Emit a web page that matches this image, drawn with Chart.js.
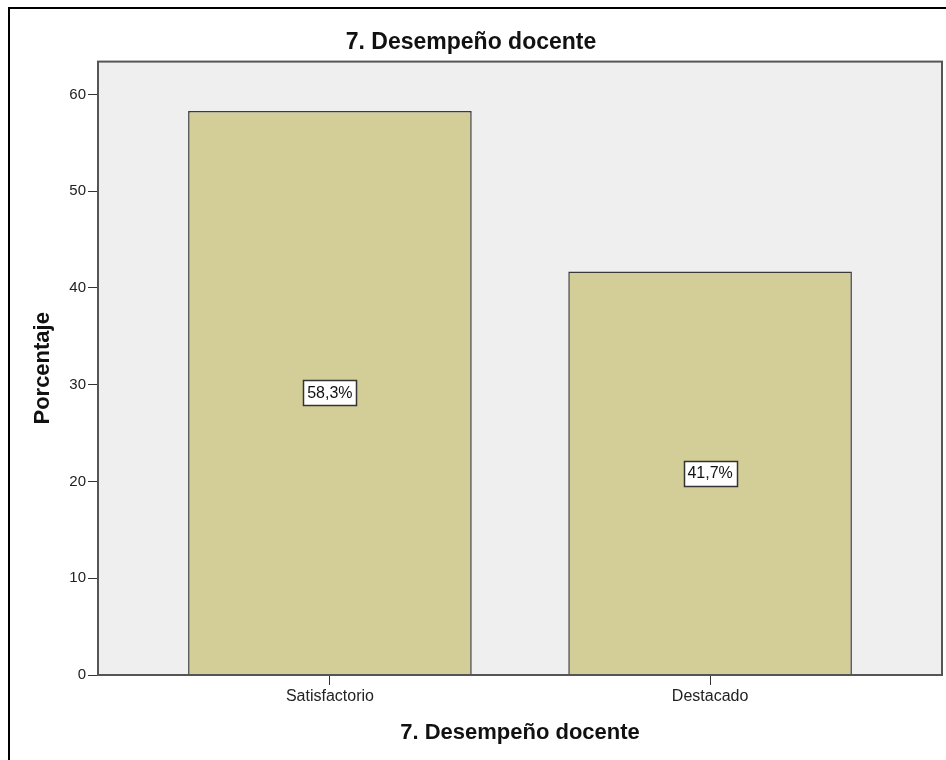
<!DOCTYPE html>
<html>
<head>
<meta charset="utf-8">
<script src="https://cdn.jsdelivr.net/npm/chart.js@4.4.1/dist/chart.umd.min.js"></script>
<style>
  html, body { margin: 0; padding: 0; background: #ffffff; }
  #wrap { width: 946px; height: 760px; position: relative; }
</style>
</head>
<body>
<div id="wrap"><canvas id="c" width="946" height="760"></canvas></div>
<script>
// ---- Data ----
const chartTitle = '7. Desempeño docente';
const xAxisTitle = '7. Desempeño docente';
const yAxisTitle = 'Porcentaje';
const categories = ['Satisfactorio', 'Destacado'];
const percentages = [58.3, 41.7];
const yTicks = [0, 10, 20, 30, 40, 50, 60];

const positions = categories.map((_, i) => i + 1);
const points = positions.map((x, i) => ({ x: x, y: percentages[i] }));

const FONT = "'Liberation Sans', Arial, sans-serif";

const framePlugin = {
  id: 'frame',
  beforeDatasetsDraw(chart) {
    const { ctx, chartArea: a } = chart;
    ctx.save();
    ctx.fillStyle = '#efefef';
    ctx.fillRect(a.left, a.top, a.right - a.left, a.bottom - a.top);
    ctx.restore();
  },
  afterDatasetsDraw(chart) {
    const { ctx, chartArea: a } = chart;
    ctx.save();
    ctx.strokeStyle = '#555555';
    ctx.lineWidth = 2;
    ctx.strokeRect(a.left, a.top, a.right - a.left, a.bottom - a.top);
    ctx.restore();
    // value labels
    const meta = chart.getDatasetMeta(0);
    ctx.save();
    ctx.font = '16px ' + FONT;
    ctx.textAlign = 'center';
    ctx.textBaseline = 'middle';
    meta.data.forEach((el, i) => {
      const txt = percentages[i].toFixed(1).replace('.', ',') + '%';
      const cx = el.x;
      const cy = (el.y + el.base) / 2;
      const w = Math.round(ctx.measureText(txt).width + 8);
      const h = 25;
      const bx = Math.round(cx - w / 2) + 0.5, by = Math.round(cy - h / 2) + 0.5;
      ctx.fillStyle = '#ffffff';
      ctx.fillRect(bx, by, w, h);
      ctx.strokeStyle = '#333333';
      ctx.lineWidth = 1.5;
      ctx.strokeRect(bx, by, w, h);
      ctx.fillStyle = '#111111';
      ctx.fillText(txt, cx, cy + 1);
    });
    ctx.restore();
  },
  afterDraw(chart) {
    const { ctx } = chart;
    ctx.save();
    ctx.strokeStyle = '#000000';
    ctx.lineWidth = 2;
    ctx.beginPath();
    ctx.moveTo(9, 760);
    ctx.lineTo(9, 8);
    ctx.lineTo(946, 8);
    ctx.stroke();
    ctx.restore();
  }
};

new Chart(document.getElementById('c'), {
  type: 'bar',
  data: {
    datasets: [{
      data: points,
      backgroundColor: '#d3ce98',
      borderColor: '#3a3a3a',
      borderWidth: 1.5,
      barPercentage: 0.746,
      categoryPercentage: 1.0
    }]
  },
  options: {
    responsive: false,
    animation: false,
    layout: { padding: { left: 0, right: 4, top: 0, bottom: 0 } },
    plugins: {
      legend: { display: false },
      tooltip: { enabled: false },
      title: {
        display: true,
        text: chartTitle,
        color: '#111111',
        font: { family: FONT, size: 23, weight: 'bold' },
        padding: { top: 29, bottom: 5 }
      }
    },
    scales: {
      x: {
        type: 'linear',
        offset: false,
        min: 0.39,
        max: 2.61,
        afterBuildTicks(scale) { scale.ticks = positions.map(v => ({ value: v })); },
        afterFit(scale) { scale.height = 85; },
        border: { display: false },
        grid: { offset: false, drawOnChartArea: false, drawTicks: true, tickLength: 10, color: '#333333', lineWidth: 1 },
        ticks: {
          padding: 2,
          color: '#222222',
          font: { family: FONT, size: 16 },
          maxRotation: 0,
          autoSkip: false,
          callback(v) { return categories[v - 1]; }
        },
        title: {
          display: true,
          text: xAxisTitle,
          color: '#111111',
          font: { family: FONT, size: 22, weight: 'bold' },
          padding: { top: 0, bottom: 14 }
        }
      },
      y: {
        min: 0,
        max: 63.4,
        afterBuildTicks(scale) { scale.ticks = yTicks.map(v => ({ value: v })); },
        afterFit(scale) { scale.width = 98; },
        border: { display: false },
        grid: { drawOnChartArea: false, drawTicks: true, tickLength: 10, color: '#333333', lineWidth: 1 },
        ticks: {
          padding: 2,
          color: '#222222',
          font: { family: FONT, size: 15 }
        },
        title: {
          display: true,
          text: yAxisTitle,
          color: '#111111',
          font: { family: FONT, size: 22, weight: 'bold' },
          padding: { top: 30, bottom: 0 }
        }
      }
    }
  },
  plugins: [framePlugin]
});
</script>
</body>
</html>
